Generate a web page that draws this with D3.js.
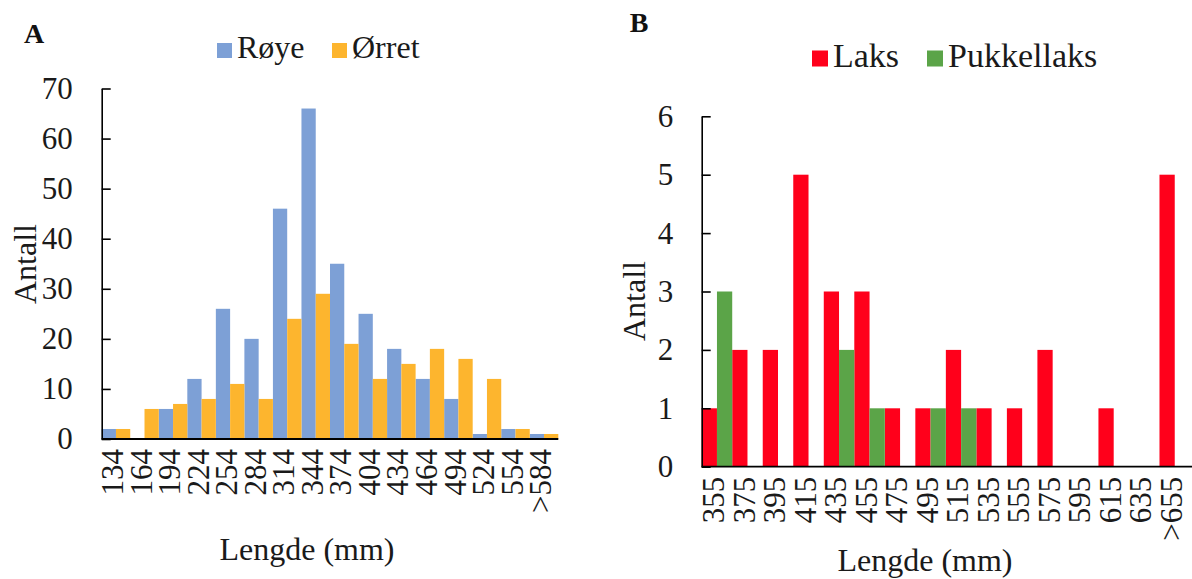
<!DOCTYPE html>
<html>
<head>
<meta charset="utf-8">
<script src="https://cdn.jsdelivr.net/npm/d3@7"></script>
<style>
  html, body { margin: 0; padding: 0; background: #fff; }
  svg { display: block; font-family: "Liberation Serif", "Times New Roman", serif; }
  svg text { font-family: "Liberation Serif", "Times New Roman", serif; }
</style>
</head>
<body>
<svg id="chart" width="1192" height="579"></svg>
<script>
// ---- Panel A data ----
const catsA = ["134","164","194","224","254","284","314","344","374","404","434","464","494","524","554",">584"];
const royeA = [2, 0, 6, 12, 26, 20, 46, 66, 35, 25, 18, 12, 8, 1, 2, 1];
const orretA = [2, 6, 7, 8, 11, 8, 24, 29, 19, 12, 15, 18, 16, 12, 2, 1];
const seriesNamesA = ["Røye", "Ørret"];
const yTicksA = [0, 10, 20, 30, 40, 50, 60, 70];

// ---- Panel B data ----
const catsB = ["355","375","395","415","435","455","475","495","515","535","555","575","595","615","635",">655"];
const laksB = [1, 2, 2, 5, 3, 3, 1, 1, 2, 1, 1, 2, 0, 1, 0, 5];
const pukkelB = [3, 0, 0, 0, 2, 1, 0, 1, 1, 0, 0, 0, 0, 0, 0, 0];
const seriesNamesB = ["Laks", "Pukkellaks"];
const yTicksB = [0, 1, 2, 3, 4, 5, 6];

const svg = d3.select("#chart");
const FONT = "Liberation Serif, Times New Roman, serif";

function drawPanel(cfg) {
  const g = svg.append("g");
  const x = d3.scaleBand().domain(cfg.cats).range(cfg.xRange).padding(0);
  const xs = d3.scaleBand().domain(cfg.names).range([0, x.bandwidth()]).padding(0);
  const y = d3.scaleLinear().domain(cfg.yDomain).range(cfg.yRange);

  // bars
  cfg.names.forEach((name, si) => {
    g.append("g").selectAll("rect")
      .data(cfg.cats.map((c, i) => ({ c, v: cfg.values[si][i] })))
      .join("rect")
      .attr("x", d => x(d.c) + xs(name))
      .attr("y", d => y(d.v))
      .attr("width", xs.bandwidth())
      .attr("height", d => y(0) - y(d.v))
      .attr("fill", cfg.colors[si]);
  });

  // y axis
  const ya = g.append("g")
    .attr("transform", `translate(${cfg.xRange[0]},0)`)
    .attr("font-family", FONT)
    .call(d3.axisLeft(y).tickValues(cfg.yTicks).tickFormat(d3.format("d"))
      .tickSizeInner(-9).tickSizeOuter(0).tickPadding(cfg.yPad));
  ya.attr("font-family", FONT);
  ya.select(".domain").attr("stroke", "#000").attr("stroke-width", 1.6);
  ya.selectAll(".tick line").attr("stroke", "#000").attr("stroke-width", 1.6);
  ya.selectAll(".tick text").attr("fill", "#1a1a1a")
    .style("font-size", cfg.tickFont + "px").style("font-family", FONT);

  // x axis
  const xa = g.append("g")
    .attr("transform", `translate(0,${cfg.yRange[0]})`)
    .call(d3.axisBottom(x).tickSize(0).tickSizeOuter(0));
  xa.attr("font-family", FONT);
  xa.select(".domain").attr("stroke", "#000").attr("stroke-width", 1.8)
    .attr("d", `M${cfg.xRange[0]},0H${cfg.xAxisEnd}`);
  xa.selectAll(".tick text")
    .attr("transform", "rotate(-90)")
    .attr("x", -10).attr("y", 0).attr("dy", "0.23em")
    .style("text-anchor", "end")
    .attr("fill", "#1a1a1a")
    .style("font-size", cfg.tickFont + "px").style("font-family", FONT);

  // axis titles
  g.append("text")
    .attr("transform", `translate(${cfg.yTitle[0]},${cfg.yTitle[1]}) rotate(-90)`)
    .attr("text-anchor", "middle")
    .style("font-size", cfg.titleFont + "px").style("font-family", FONT).attr("fill", "#1a1a1a")
    .text("Antall");
  g.append("text")
    .attr("x", cfg.xTitle[0]).attr("y", cfg.xTitle[1])
    .attr("text-anchor", "middle")
    .style("font-size", cfg.titleFont + "px").style("font-family", FONT).attr("fill", "#1a1a1a")
    .text("Lengde (mm)");

  // panel letter
  g.append("text")
    .attr("x", cfg.letterPos[0]).attr("y", cfg.letterPos[1])
    .attr("text-anchor", "middle")
    .style("font-size", "28px").style("font-weight", "bold").style("font-family", FONT).attr("fill", "#111")
    .text(cfg.letter);

  // legend
  cfg.names.forEach((name, si) => {
    const lx = cfg.legendX[si];
    g.append("rect")
      .attr("x", lx).attr("y", cfg.legendY - cfg.legendSq)
      .attr("width", cfg.legendSq).attr("height", cfg.legendSq)
      .attr("fill", cfg.colors[si]);
    g.append("text")
      .attr("x", lx + cfg.legendSq + 5).attr("y", cfg.legendY)
      .style("font-size", cfg.legendFont + "px").style("font-family", FONT).attr("fill", "#1a1a1a")
      .text(name);
  });
}

drawPanel({
  cats: catsA, names: seriesNamesA, values: [royeA, orretA],
  colors: ["#7DA0D6", "#FDB52E"],
  xRange: [101.7, 558.3], xAxisEnd: 558.3,
  yDomain: [0, 70], yRange: [439, 88.5], yTicks: yTicksA, yPad: 29,
  tickFont: 31, titleFont: 32, legendFont: 32,
  yTitle: [36, 264], xTitle: [307, 560],
  letter: "A", letterPos: [34, 43],
  legendX: [217, 332], legendY: 58, legendSq: 15
});

drawPanel({
  cats: catsB, names: seriesNamesB, values: [laksB, pukkelB],
  colors: ["#FF001B", "#5BA448"],
  xRange: [701.7, 1190], xAxisEnd: 1192,
  yDomain: [0, 6], yRange: [466.7, 116.3], yTicks: yTicksB, yPad: 28.4,
  tickFont: 31, titleFont: 32, legendFont: 34,
  yTitle: [645, 301], xTitle: [925, 571],
  letter: "B", letterPos: [639, 32],
  legendX: [812, 927], legendY: 66.5, legendSq: 16
});
</script>
</body>
</html>
